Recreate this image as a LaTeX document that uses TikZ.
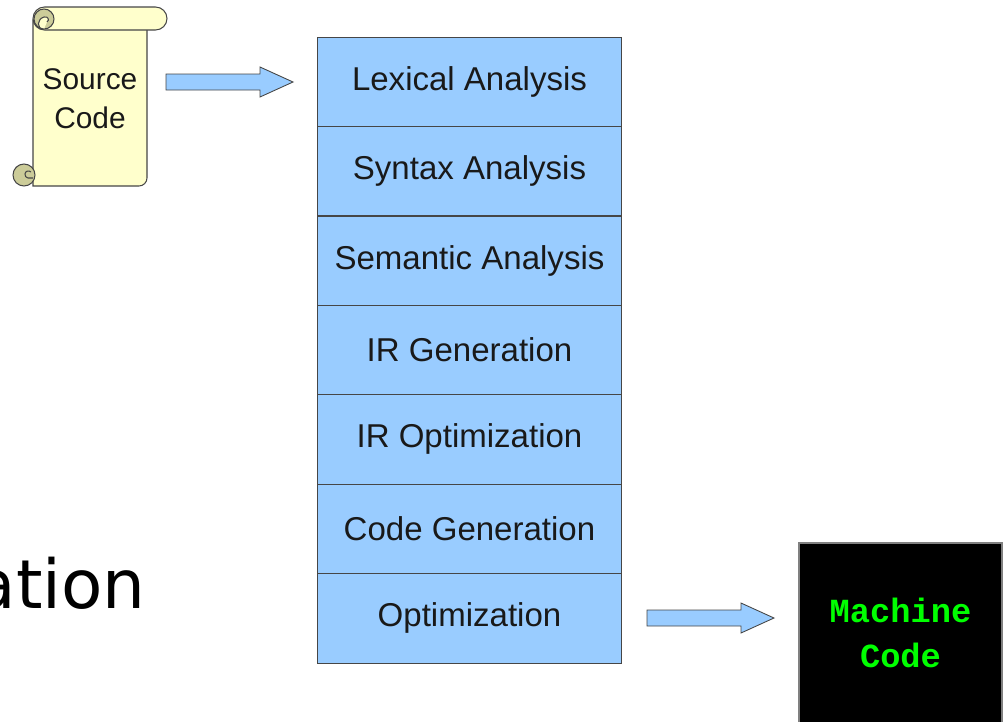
\documentclass[tikz,border=0pt]{standalone}
\usepackage{fontspec}
\setmainfont{Liberation Sans}
\newfontfamily\monofont{Liberation Mono}
\newfontfamily\handfont{DejaVu Sans}
\usepackage{tikz}
\usetikzlibrary{positioning}

\definecolor{phaseblue}{RGB}{153,204,255}
\definecolor{scrollyellow}{RGB}{255,255,204}
\definecolor{curlgreen}{RGB}{204,204,153}
\definecolor{edgegray}{RGB}{70,70,70}
\definecolor{termgreen}{RGB}{0,255,0}

\tikzset{
  phase/.style={draw=edgegray, fill=phaseblue, minimum width=6.08cm, minimum height=1.788cm,
    inner sep=0pt, font=\fontsize{18.8}{22}\selectfont, text=black!90},
  scroll/.style={draw=edgegray, fill=scrollyellow, line width=0.6pt},
  curl/.style={draw=edgegray, fill=curlgreen, line width=0.6pt},
  blockarrow/.style={draw=edgegray, fill=phaseblue, line width=0.5pt, line join=miter}
}
% block arrow drawn from its tail coordinate
\newcommand{\bigarrow}[1]{%
  \draw[blockarrow] (#1) ++(0,-8) -- ++(94,0) -- ++(0,-7) -- ++(33,15) -- ++(-33,15)
    -- ++(0,-7) -- ++(-94,0) -- cycle;}

\begin{document}
\begin{tikzpicture}[x=0.02cm, y=-0.02cm]
    \useasboundingbox (0,0) rectangle (1005,721);
    % source code scroll
    \draw[scroll] (33,20) -- (33,186) -- (139,186) .. controls (143.4,186) and (147,182.4) .. (147,178) -- (147,20) -- cycle;
    \draw[scroll, rounded corners=0.23cm] (33,7) rectangle (167,30);
    \draw[curl] (44,19) circle[radius=10];
    \draw[scroll] (44,29) .. controls (36,29) and (37,19) .. (44,17) .. controls (48,16) and (50,20) .. (47,22);
    \draw[curl] (24,175) circle[radius=11];
    \draw[edgegray, line width=0.6pt] (33,178) -- (28,178) .. controls (26,178) and (25,176) .. (25,174)
      .. controls (25,171) and (29,170) .. (31,172);
    \node[align=center, font=\fontsize{17}{22}\selectfont, text=black!90] (src) at (90,99) {Source\\Code};
    % phases
    \foreach \n/\t [count=\i] in {lex/Lexical Analysis, syn/Syntax Analysis, sem/Semantic Analysis,
        irg/IR Generation, iro/IR Optimization, cgen/Code Generation, opt/Optimization}
      \node[phase] (\n) at (469.5, {37+89.43*(\i-0.5)}) {\t};
    % arrows
    \coordinate (a1) at (166,82);
    \coordinate (a2) at (647,618);
    \bigarrow{a1}
    \bigarrow{a2}
    % machine code
    \fill[black] (799,543) rectangle (1002,740);
    \draw[gray, line width=0.6pt] (799,740) -- (799,543) -- (1002,543) -- (1002,740);
    \node[align=center, text=termgreen, font=\monofont\bfseries\fontsize{19.2}{25.5}\selectfont] (mc) at (900.5,633) {Machine\\Code};
    % cut-off title
    \node[anchor=base east, inner sep=0pt, font=\handfont\fontsize{38.5}{44}\selectfont] (ttl) at (146,608) {ation};
\end{tikzpicture}
\end{document}
